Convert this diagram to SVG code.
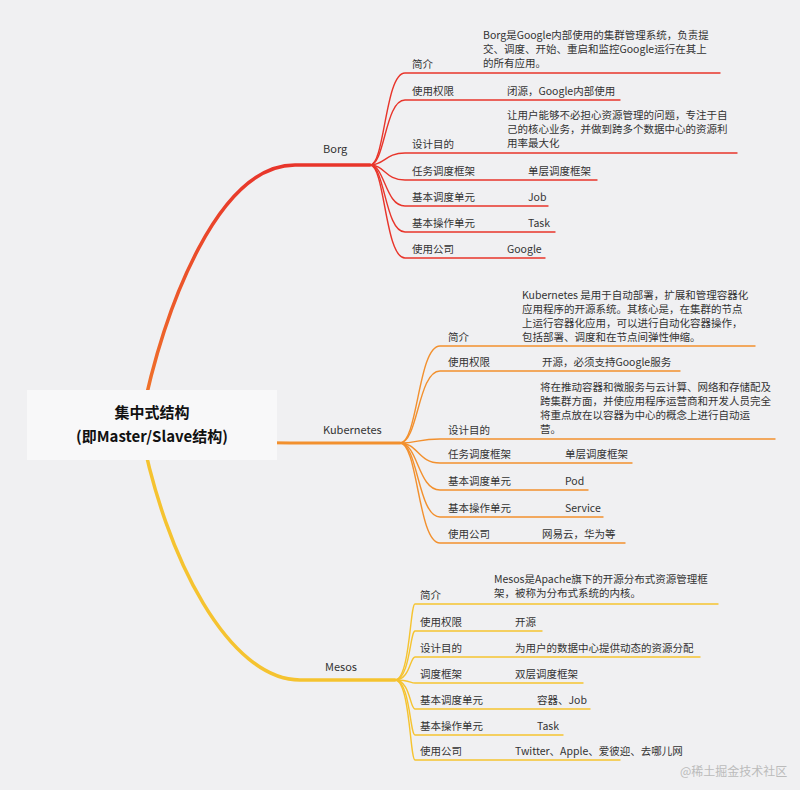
<svg xmlns="http://www.w3.org/2000/svg" width="800" height="790" viewBox="0 0 800 790">
<defs>
<style>
text{font-family:"Noto Sans CJK SC","Liberation Sans",sans-serif;font-size:10.5px;fill:#333}
.m{font-size:11px}
.r{fill:none;stroke-linecap:round}
.b{stroke:#e8352b}.k{stroke:#f2902e}.s{stroke:#f5c330}
.c{stroke-width:1.4}
</style>
<linearGradient id="gb" x1="0" y1="1" x2="0" y2="0"><stop offset="0" stop-color="#f07a2a"/><stop offset="1" stop-color="#e8352b"/></linearGradient>
</defs>
<rect width="800" height="790" fill="#f0f0f2"/>
<g id="connectors">
<path class="r" d="M140,425 C165,300 220,165 295,165 L370,165" stroke="url(#gb)" stroke-width="3.5"/>
<path class="r k" d="M140,425 C185,440 240,443 290,443 L400,443" stroke-width="3"/>
<path class="r s" d="M140,425 C165,560 230,680 300,680 L395,680" stroke-width="3.5"/>
<g class="r b c">
<path d="M370,165 C385,165 385,73 405,73 L720,73"/>
<path d="M370,165 C385,165 385,100 405,100 L620,100"/>
<path d="M370,165 C385,165 385,153 405,153 L737,153"/>
<path d="M370,165 C385,165 385,180 405,180 L597,180"/>
<path d="M370,165 C385,165 385,206 405,206 L548,206"/>
<path d="M370,165 C385,165 385,232 405,232 L555,232"/>
<path d="M370,165 C385,165 385,258 405,258 L545,258"/>
</g>
<g class="r k c">
<path d="M400,443 C418,443 418,346 440,346 L755,346"/>
<path d="M400,443 C418,443 418,371 440,371 L680,371"/>
<path d="M400,443 C418,443 418,439 440,439 L775,439"/>
<path d="M400,443 C418,443 418,463 440,463 L632,463"/>
<path d="M400,443 C418,443 418,490 440,490 L588,490"/>
<path d="M400,443 C418,443 418,517 440,517 L603,517"/>
<path d="M400,443 C418,443 418,543 440,543 L625,543"/>
</g>
<g class="r s c">
<path d="M395,680 C410,680 410,604 415,604 L718,604"/>
<path d="M395,680 C410,680 410,631 415,631 L542,631"/>
<path d="M395,680 C410,680 410,657 415,657 L700,657"/>
<path d="M395,680 C410,680 410,683 415,683 L583,683"/>
<path d="M395,680 C410,680 410,709 415,709 L590,709"/>
<path d="M395,680 C410,680 410,735 415,735 L563,735"/>
<path d="M395,680 C410,680 410,760 415,760 L620,760"/>
</g>
</g>
<g id="root">
<rect x="27" y="390" width="250" height="70" fill="#f8f8f9"/>
<text x="152" y="418" text-anchor="middle" style="font-size:15px;font-weight:bold;fill:#111">集中式结构</text>
<text x="152" y="442" text-anchor="middle" style="font-size:15px;font-weight:bold;fill:#111">(即Master/Slave结构)</text>
</g>
<g id="borg">
<text class="m" x="323" y="153">Borg</text>
<text x="412" y="68">简介</text>
<text x="483" y="39">Borg是Google内部使用的集群管理系统，负责提</text>
<text x="483" y="53">交、调度、开始、重启和监控Google运行在其上</text>
<text x="483" y="67">的所有应用。</text>
<text x="412" y="95">使用权限</text><text x="507" y="95">闭源，Google内部使用</text>
<text x="412" y="148">设计目的</text>
<text x="507" y="119">让用户能够不必担心资源管理的问题，专注于自</text>
<text x="507" y="133">己的核心业务，并做到跨多个数据中心的资源利</text>
<text x="507" y="147">用率最大化</text>
<text x="412" y="175">任务调度框架</text><text x="528" y="175">单层调度框架</text>
<text x="412" y="201">基本调度单元</text><text x="528" y="201">Job</text>
<text x="412" y="227">基本操作单元</text><text x="528" y="227">Task</text>
<text x="412" y="253">使用公司</text><text x="507" y="253">Google</text>
</g>
<g id="kubernetes">
<text class="m" x="323" y="434">Kubernetes</text>
<text x="448" y="341">简介</text>
<text x="522" y="299">Kubernetes 是用于自动部署，扩展和管理容器化</text>
<text x="522" y="313">应用程序的开源系统。其核心是，在集群的节点</text>
<text x="522" y="327">上运行容器化应用，可以进行自动化容器操作，</text>
<text x="522" y="341">包括部署、调度和在节点间弹性伸缩。</text>
<text x="448" y="366">使用权限</text><text x="542" y="366">开源，必须支持Google服务</text>
<text x="448" y="434">设计目的</text>
<text x="540" y="391">将在推动容器和微服务与云计算、网络和存储配及</text>
<text x="540" y="405">跨集群方面，并使应用程序运营商和开发人员完全</text>
<text x="540" y="419">将重点放在以容器为中心的概念上进行自动运</text>
<text x="540" y="433">营。</text>
<text x="448" y="458">任务调度框架</text><text x="565" y="458">单层调度框架</text>
<text x="448" y="485">基本调度单元</text><text x="565" y="485">Pod</text>
<text x="448" y="512">基本操作单元</text><text x="565" y="512">Service</text>
<text x="448" y="538">使用公司</text><text x="542" y="538">网易云，华为等</text>
</g>
<g id="mesos">
<text class="m" x="325" y="671">Mesos</text>
<text x="420" y="599">简介</text>
<text x="494" y="583">Mesos是Apache旗下的开源分布式资源管理框</text>
<text x="494" y="597">架，被称为分布式系统的内核。</text>
<text x="420" y="626">使用权限</text><text x="515" y="626">开源</text>
<text x="420" y="652">设计目的</text><text x="515" y="652">为用户的数据中心提供动态的资源分配</text>
<text x="420" y="678">调度框架</text><text x="515" y="678">双层调度框架</text>
<text x="420" y="704">基本调度单元</text><text x="537" y="704">容器、Job</text>
<text x="420" y="730">基本操作单元</text><text x="537" y="730">Task</text>
<text x="420" y="755">使用公司</text><text x="515" y="755">Twitter、Apple、爱彼迎、去哪儿网</text>
</g>
<text x="680" y="776" style="font-size:12px;fill:#bbb">@稀土掘金技术社区</text>
</svg>
